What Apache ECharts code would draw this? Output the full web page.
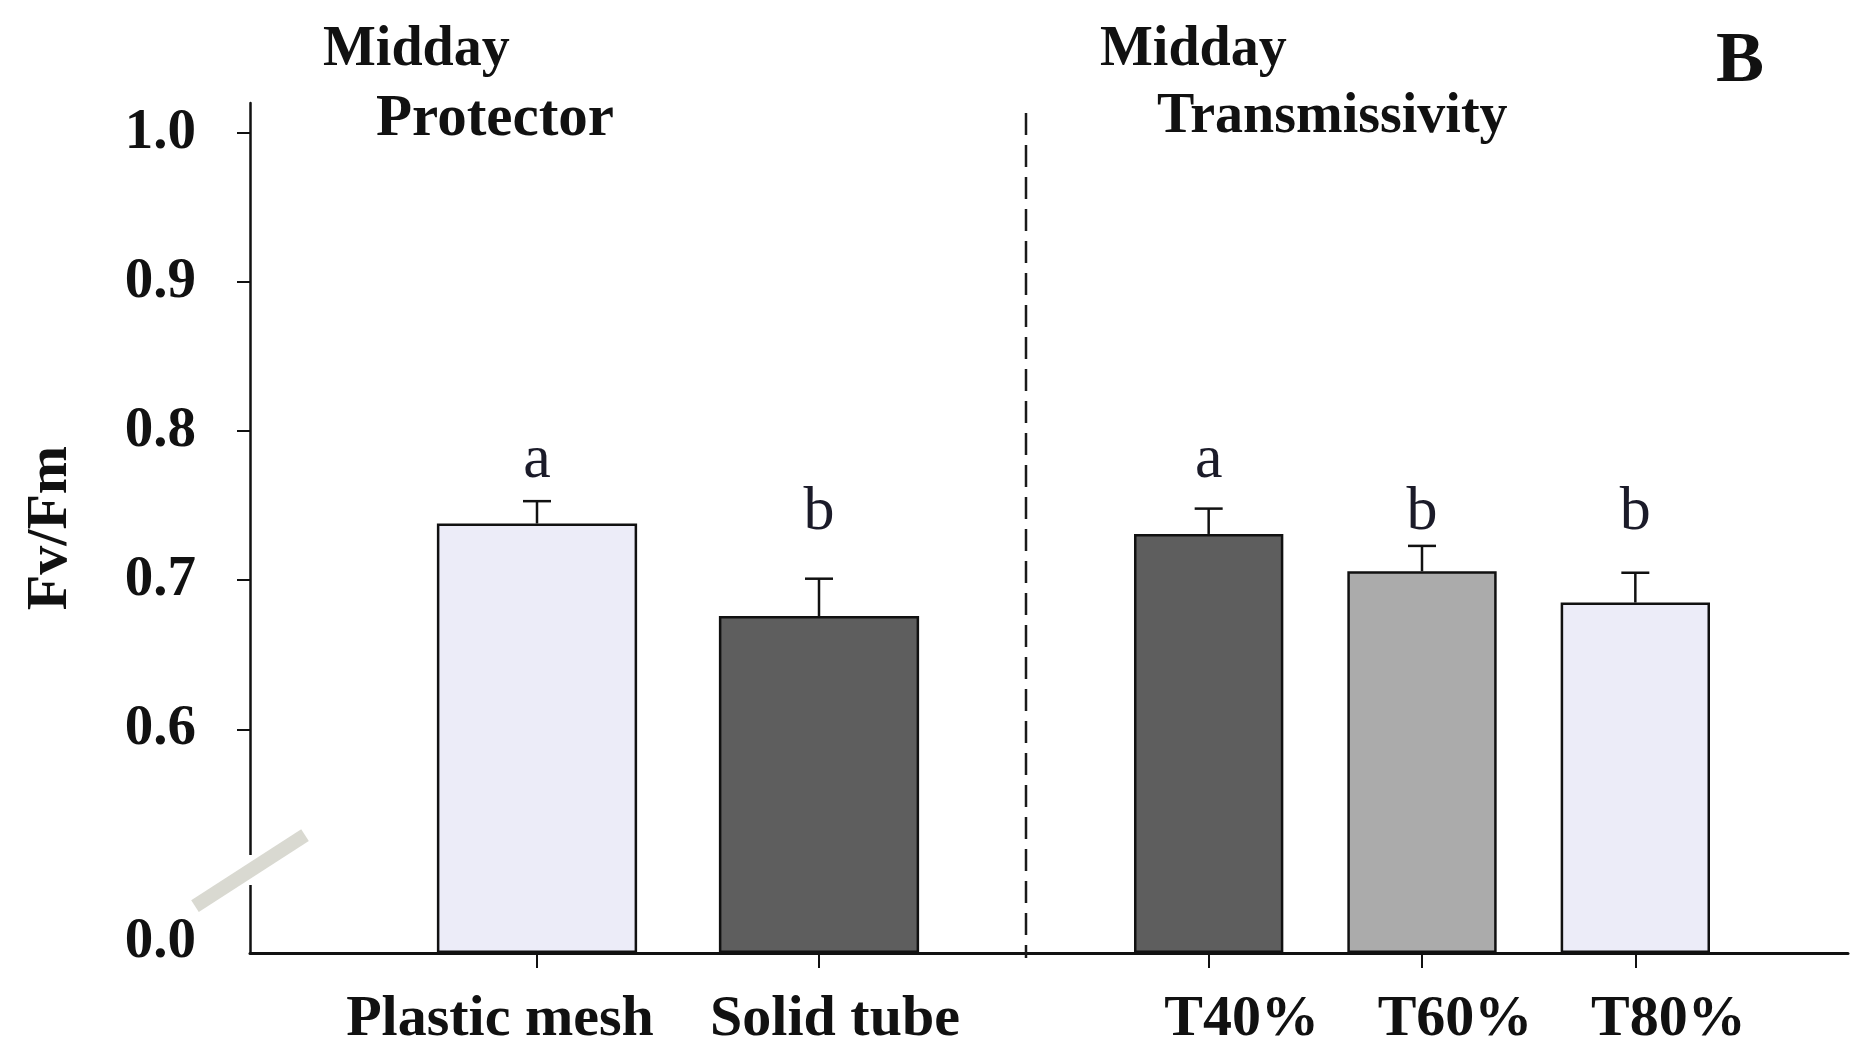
<!DOCTYPE html>
<html>
<head>
<meta charset="utf-8">
<title>Fv/Fm at midday</title>
<script src="https://cdn.jsdelivr.net/npm/echarts@6/dist/echarts.min.js"></script>
<style>
  html, body { margin: 0; padding: 0; background: #ffffff; }
  #chart { width: 1860px; height: 1054px; }
</style>
</head>
<body>
<div id="chart"></div>
<script>
// ---- data ----
const protectorCats = ['Plastic mesh', 'Solid tube'];
const protectorMeans = [0.738, 0.676];
const protectorSE = [0.015, 0.025];
const protectorLetters = ['a', 'b'];
const protectorLetterAt = [0.780, 0.745];

const transCats = ['T40%', 'T60%', 'T80%'];
const transMeans = [0.731, 0.706, 0.685];
const transSE = [0.017, 0.017, 0.020];
const transLetters = ['a', 'b', 'b'];
const transLetterAt = [0.780, 0.745, 0.745];

const yTickValues = [0.6, 0.7, 0.8, 0.9, 1.0];
const yBaseValue = 0.45;   // axis floor, shown as 0.0 below the break
const yTopValue = 1.02;

// ---- styles ----
const SERIF = "'Liberation Serif', 'Times New Roman', serif";
const INK = '#111111';
const protectorColors = ['#ececf8', '#5e5e5e'];
const transColors = ['#5e5e5e', '#ababab', '#ececf8'];

const GRID_TOP = 103, GRID_BOTTOM = 101, AXIS_X = 250;

const chart = echarts.init(document.getElementById('chart'), null, { renderer: 'canvas' });

function errorBarItem(params, api) {
  const i = api.value(0), m = api.value(1), e = api.value(2);
  const base = api.coord([i, m]);
  const top = api.coord([i, m + e]);
  const half = 14;
  const st = { stroke: INK, lineWidth: 2.5 };
  return {
    type: 'group',
    children: [
      { type: 'line', shape: { x1: base[0], y1: base[1], x2: top[0], y2: top[1] }, style: st },
      { type: 'line', shape: { x1: top[0] - half, y1: top[1], x2: top[0] + half, y2: top[1] }, style: st }
    ]
  };
}

function letterItem(letters) {
  return function (params, api) {
    const p = api.coord([api.value(0), api.value(1)]);
    return {
      type: 'text', x: p[0], y: p[1],
      style: {
        text: letters[params.dataIndex], fontSize: 62, fontFamily: SERIF,
        fill: '#1b1b29', align: 'center', verticalAlign: 'middle'
      }
    };
  };
}

const hiddenY = (gi) => ({
  type: 'value', gridIndex: gi, min: yBaseValue, max: yTopValue, startValue: yBaseValue,
  show: false, splitLine: { show: false }
});

// category labels sit slightly off their ticks, each by its own shift
const catLabel = (shifts) => ({
  margin: 38, interval: 0, hideOverlap: false,
  color: INK, fontFamily: SERIF, fontWeight: 'bold', fontSize: 58,
  formatter: function (v, idx) { return '{s' + idx + '|' + v + '}'; },
  rich: Object.fromEntries(shifts.map((s, k) => [
    's' + k,
    { fontFamily: SERIF, fontWeight: 'bold', fontSize: 58, color: INK,
      padding: s < 0 ? [0, -2 * s, 0, 0] : [0, 0, 0, 2 * s] }
  ]))
});

const catTick = { show: true, alignWithLabel: true, inside: false, length: 15, interval: 0,
                  lineStyle: { color: INK, width: 2 } };

const option = {
  backgroundColor: '#ffffff',
  animation: false,
  grid: [
    { left: AXIS_X, right: 12, top: GRID_TOP, bottom: GRID_BOTTOM, containLabel: false, outerBoundsMode: 'none' },
    { left: 396, width: 564, top: GRID_TOP, bottom: GRID_BOTTOM, containLabel: false, outerBoundsMode: 'none' },
    { left: 1102, width: 640, top: GRID_TOP, bottom: GRID_BOTTOM, containLabel: false, outerBoundsMode: 'none' }
  ],
  xAxis: [
    { type: 'category', gridIndex: 0, data: [''],
      axisLine: { show: true, lineStyle: { color: INK, width: 3 } },
      axisTick: { show: false }, axisLabel: { show: false }, splitLine: { show: false } },
    { type: 'category', gridIndex: 1, data: protectorCats,
      axisLine: { show: false }, axisTick: catTick, axisLabel: catLabel([-37, 16]),
      splitLine: { show: false } },
    { type: 'category', gridIndex: 2, data: transCats,
      axisLine: { show: false }, axisTick: catTick, axisLabel: catLabel([33, 33, 33]),
      splitLine: { show: false } }
  ],
  yAxis: [
    { type: 'value', gridIndex: 0, min: yBaseValue, max: yTopValue, interval: 0.05,
      name: 'Fv/Fm', nameLocation: 'middle', nameGap: 170, nameRotate: 90,
      nameTextStyle: { color: INK, fontFamily: SERIF, fontWeight: 'bold', fontSize: 58 },
      axisLine: { show: true, lineStyle: { color: INK, width: 2.5 } },
      axisTick: { show: true, inside: false, length: 13, customValues: yTickValues,
                  lineStyle: { color: INK, width: 2 } },
      axisLabel: {
        show: true, margin: 54, customValues: [yBaseValue].concat(yTickValues),
        color: INK, fontFamily: SERIF, fontWeight: 'bold', fontSize: 57,
        formatter: function (v) { return v < 0.5 ? '{z|0.0}' : v.toFixed(1); },
        rich: { z: { fontFamily: SERIF, fontWeight: 'bold', fontSize: 57, color: INK, padding: [0, 0, 22, 0] } }
      },
      splitLine: { show: false } },
    hiddenY(1),
    hiddenY(2)
  ],
  series: [
    { type: 'bar', xAxisIndex: 1, yAxisIndex: 1, barWidth: '71%', clip: false,
      data: protectorMeans.map((v, i) => ({ value: v, itemStyle: { color: protectorColors[i] } })),
      itemStyle: { borderColor: INK, borderWidth: 2.5 }, z: 2 },
    { type: 'custom', xAxisIndex: 1, yAxisIndex: 1, renderItem: errorBarItem, z: 3,
      encode: { x: 0, y: 1 },
      data: protectorMeans.map((m, i) => [i, m, protectorSE[i]]) },
    { type: 'custom', xAxisIndex: 1, yAxisIndex: 1, renderItem: letterItem(protectorLetters), z: 4,
      encode: { x: 0, y: 1 },
      data: protectorLetterAt.map((h, i) => [i, h]) },

    { type: 'bar', xAxisIndex: 2, yAxisIndex: 2, barWidth: '70%', clip: false,
      data: transMeans.map((v, i) => ({ value: v, itemStyle: { color: transColors[i] } })),
      itemStyle: { borderColor: INK, borderWidth: 2.5 }, z: 2 },
    { type: 'custom', xAxisIndex: 2, yAxisIndex: 2, renderItem: errorBarItem, z: 3,
      encode: { x: 0, y: 1 },
      data: transMeans.map((m, i) => [i, m, transSE[i]]) },
    { type: 'custom', xAxisIndex: 2, yAxisIndex: 2, renderItem: letterItem(transLetters), z: 4,
      encode: { x: 0, y: 1 },
      data: transLetterAt.map((h, i) => [i, h]) }
  ]
};

chart.setOption(option);

// panel headings, panel tag, group separator and the axis break mark
const headStyle = (txt, size) => ({
  text: txt, fontFamily: SERIF, fontWeight: 'bold', fontSize: size, fill: INK,
  verticalAlign: 'alphabetic'
});
const yBreakTop = chart.convertToPixel({ yAxisIndex: 0 }, 0.5157);
const yBreakBottom = chart.convertToPixel({ yAxisIndex: 0 }, 0.4956);
const yBreakMid = (yBreakTop + yBreakBottom) / 2;
const yAxisBottom = chart.convertToPixel({ yAxisIndex: 0 }, yBaseValue);

chart.setOption({
  graphic: [
    { type: 'text', left: 323, top: 23, style: headStyle('Midday', 56) },
    { type: 'text', left: 376, top: 90, style: headStyle('Protector', 59) },
    { type: 'text', left: 1100, top: 23, style: headStyle('Midday', 56) },
    { type: 'text', left: 1157, top: 90, style: headStyle('Transmissivity', 56) },
    { type: 'text', left: 1716, top: 26, style: headStyle('B', 72) },
    { type: 'line', z: 1,
      shape: { x1: 1026, y1: 113, x2: 1026, y2: yAxisBottom + 5 },
      style: { stroke: '#1a1a1a', lineWidth: 2.5, lineDash: [22, 10] } },
    { type: 'rect', z: 50,
      shape: { x: AXIS_X - 4, y: yBreakTop, width: 8, height: yBreakBottom - yBreakTop },
      style: { fill: '#ffffff' } },
    { type: 'line', z: 51,
      shape: { x1: AXIS_X - 55, y1: yBreakMid + 36, x2: AXIS_X + 55, y2: yBreakMid - 35 },
      style: { stroke: '#d9d9d1', lineWidth: 14 } }
  ]
});
</script>
</body>
</html>
